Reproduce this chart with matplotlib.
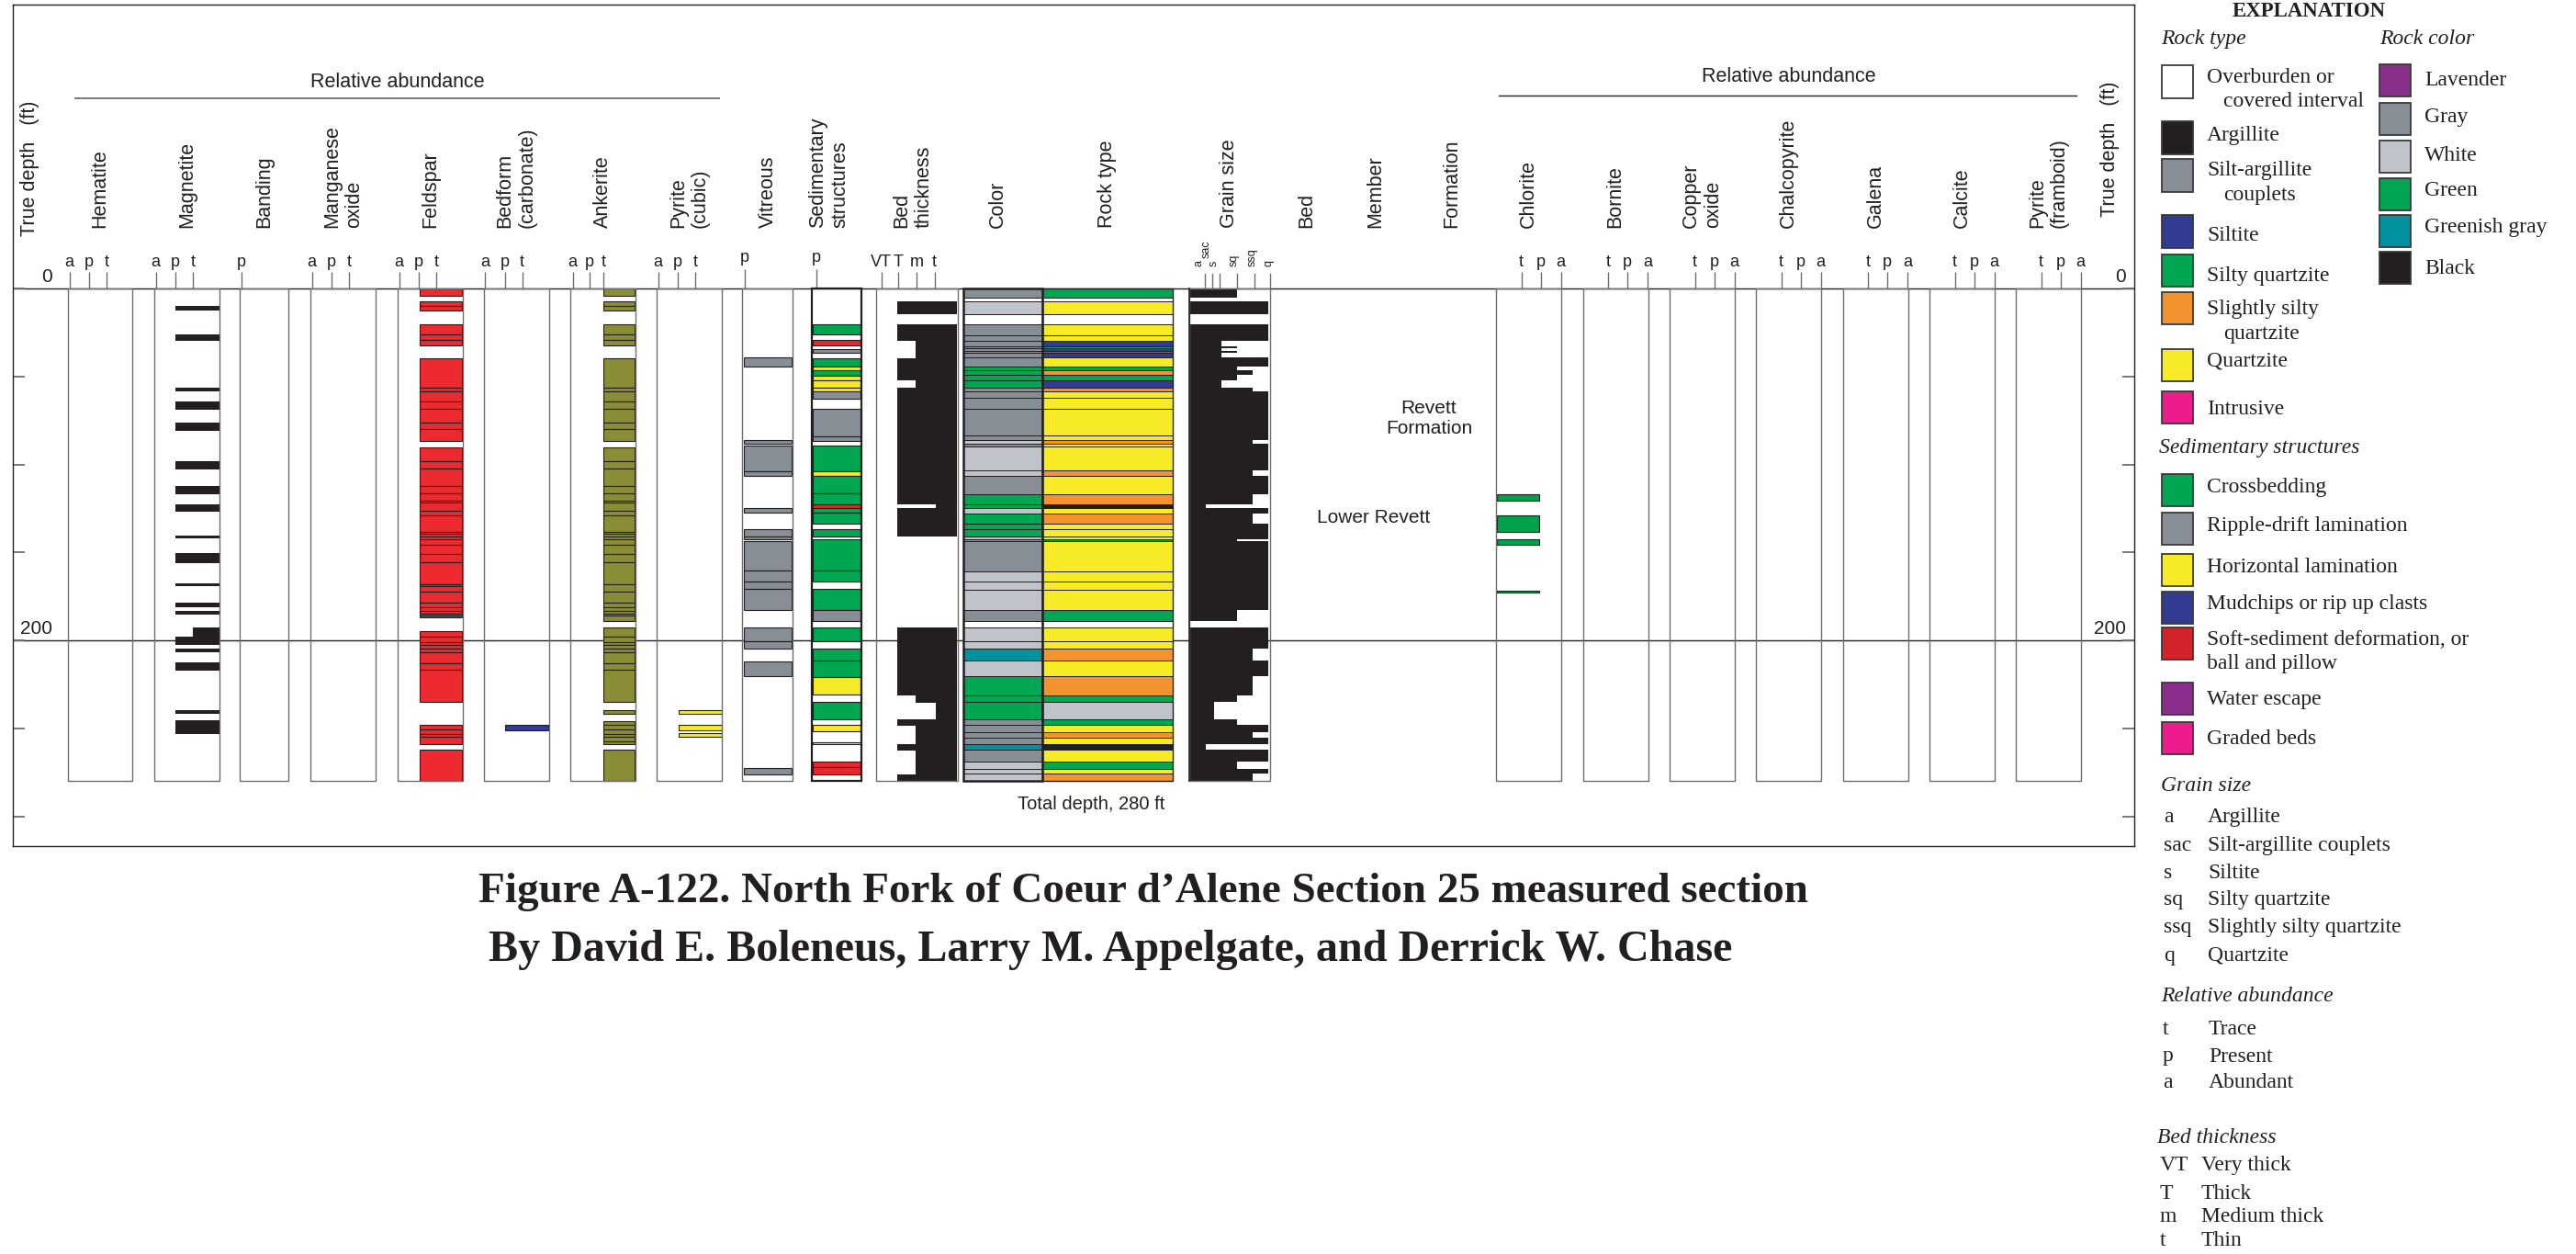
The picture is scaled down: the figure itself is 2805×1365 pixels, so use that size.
import numpy as np
import matplotlib
matplotlib.use("Agg")
import matplotlib.pyplot as plt
from matplotlib.patches import Rectangle

W, H = 2805, 1365
TOTAL_DEPTH = 280

# ---------------- section data (depth, ft) ----------------
magnetite_top = [9.9, 26.1, 56.3, 64.1, 76.2, 98.2, 112.4, 122.5, 140.2, 150.4,
                 167.4, 178.4, 183.4, 192.5, 197.6, 204.5, 212.5, 239.5, 245.5]
magnetite_base = [12.5, 29.6, 58.7, 68.8, 80.7, 102.9, 116.7, 126.9, 141.8, 155.8,
                  168.9, 181.0, 185.1, 197.6, 202.6, 206.9, 217.0, 241.9, 252.9]
magnetite_level = ["p"] * 13 + ["t"] + ["p"] * 5

# beds given as runs of contiguous boundaries
feldspar_beds = [
    [0, 4.3], [7.1, 9.9, 12.3], [20.1, 26.1, 29.3, 32.6],
    [39.5, 56.5, 58.5, 64.3, 68.4, 76.4, 80.1, 86.7],
    [90.4, 98.2, 102.5, 112.4, 116.5, 120.6, 121.5, 126.2, 128.8, 138.3, 139.6,
     140.7, 142.4, 145.8, 150.6, 155.6, 167.8, 168.9, 172.0, 178.6, 181.0, 183.4,
     184.5, 185.8, 186.8],
    [194.8, 197.8, 200.7, 202.4, 204.5, 206.9, 213.0, 216.6, 234.9],
    [247.9, 250.5, 252.9, 254.8, 259.1], [261.9, 280],
]
ankerite_beds = [
    [0, 4.3], [7.1, 9.9, 12.3], [20.1, 26.1, 29.3, 32.6],
    [39.5, 56.5, 58.5, 64.3, 68.4, 76.4, 80.1, 86.7],
    [90.4, 98.2, 102.5, 112.4, 116.5, 120.6, 121.5, 126.2, 128.8, 138.3, 139.6,
     140.7, 142.4, 145.8, 150.6, 155.6, 167.8, 172.0, 178.6, 181.0, 183.4, 184.5,
     185.8, 188.8],
    [192.5, 197.8, 200.7, 202.4, 204.5, 206.9, 213.0, 216.6, 234.9],
    [239.5, 241.9], [245.8, 247.9, 250.5, 252.9, 254.8, 257.2, 259.1], [261.9, 280],
]
bedform_top, bedform_base = [247.9], [251.1]
pyrite_cubic_top = [239.5, 247.9, 252.6]
pyrite_cubic_base = [241.8, 250.9, 254.8]

vitreous_beds = [
    [39.1, 44.4], [86.3, 88.2], [89.5, 103.8, 106.4], [124.5, 127.3],
    [136.6, 140.7, 142.6], [143.5, 160.3, 166.4, 170.5, 182.7],
    [192.5, 200.4, 204.7], [211.9, 220.5], [272.7, 275.9],
]

sed_top = [20.1, 29.3, 34.5, 39.5, 44.4, 46.2, 49.4, 52.2, 56.5, 58.3, 68.4,
           83.9, 89.5, 103.8, 106.4, 116.5, 122.5, 124.5, 127.3, 136.6, 142.6,
           160.3, 170.5, 182.7, 192.5, 204.7, 211.6, 220.9, 234.9, 247.9, 257.6,
           268.8, 272.1]
sed_base = [26.1, 32.4, 36.3, 44.4, 46.2, 49.4, 52.2, 56.5, 58.3, 62.4, 83.9,
            86.7, 103.8, 106.4, 116.5, 122.5, 124.5, 127.3, 133.6, 140.7, 160.3,
            166.4, 182.7, 188.8, 200.4, 211.6, 220.9, 230.8, 244.7, 251.6, 259.1,
            272.1, 275.9]
sed_kind = ["cb", "ss", "rd", "cb", "hl", "cb", "hl", "hl", "hl", "rd", "rd",
            "rd", "cb", "hl", "cb", "cb", "ss", "cb", "cb", "cb", "cb",
            "cb", "cb", "rd", "cb", "cb", "cb", "hl", "cb", "hl", "hl",
            "ss", "ss"]

thick_top = [7.1, 20.5, 29.6, 39.6, 52.4, 56.5, 122.6, 124.6, 192.8, 231.0,
             235.4, 244.9, 248.5, 258.9, 262.4, 273.2, 275.9]
thick_base = [14.4, 29.6, 39.6, 52.4, 56.5, 122.6, 124.6, 141.0, 231.0, 235.4,
              244.9, 248.5, 258.9, 262.4, 272.8, 275.9, 280]
thick_level = ["T", "T", "m", "T", "m", "T", "t", "T", "T", "m",
               "t", "T", "m", "T", "m", "m", "T"]

bed_top = [0, 5.4, 7.1, 14.4, 20.5, 26.6, 29.6, 32.7, 33.9, 35.7, 36.7, 39.1,
           44.5, 46.3, 49.3, 52.4, 56.5, 58.3, 62.3, 68.4, 83.7, 86.1, 88.4,
           89.8, 103.5, 106.6, 116.7, 122.6, 124.9, 127.9, 133.6, 136.8, 141.0,
           142.7, 143.7, 160.6, 166.7, 171.0, 182.7, 188.8, 192.8, 200.6, 204.4,
           211.4, 220.4, 231.0, 234.8, 244.9, 248.0, 251.9, 255.0, 258.9, 262.0,
           269.0, 272.8, 275.8]
bed_color = ["gy", "cv", "wh", "cv", "gy", "gy", "gy", "gy", "gy", "gy", "gy", "gy",
             "gn", "gn", "gn", "gn", "gy", "gy", "gy", "gy", "gy", "wh", "gy",
             "wh", "wh", "gy", "gn", "gn", "wh", "gn", "gn", "gn", "wh",
             "gy", "gy", "wh", "wh", "wh", "gy", "cv", "wh", "wh", "gg",
             "wh", "gn", "gn", "gn", "gy", "gy", "gy", "gy", "gg", "gy",
             "wh", "wh", "wh"]
bed_rock = ["sq", "cv", "q", "cv", "q", "q", "s", "sq", "s", "sq", "s", "q",
            "sq", "ssq", "sq", "s", "ssq", "q", "q", "q", "q", "ssq", "q",
            "q", "ssq", "q", "ssq", "a", "q", "ssq", "q", "q", "q",
            "sq", "q", "q", "q", "q", "sq", "cv", "q", "q", "ssq",
            "q", "ssq", "sq", "sac", "sq", "q", "ssq", "q", "a", "q",
            "sq", "q", "ssq"]

chlorite_top = [117.0, 129.0, 142.6, 171.7]
chlorite_base = [120.7, 138.5, 145.6, 172.7]

# ---------------- colours ----------------
INK = "#231f20"
LINE = "#6d6e71"
GRAY, LIGHT = "#878e95", "#c0c3ca"
GREEN, TEAL = "#00a651", "#00939f"
BLUE, ORANGE, YELLOW = "#323a92", "#f2932f", "#f7ea26"
RED, OLIVE = "#ec2a2f", "#8a8c36"
PURPLE, PINK = "#8b2f8c", "#ec1c8d"

color_fill = {"gy": GRAY, "wh": LIGHT, "gn": GREEN, "gg": TEAL, "cv": "white"}
rock_fill = {"cv": "white", "a": INK, "sac": LIGHT, "s": BLUE, "sq": GREEN,
             "ssq": ORANGE, "q": YELLOW}
sed_fill = {"cb": GREEN, "rd": GRAY, "hl": YELLOW, "ss": "#e8262c"}

plt.rcParams["font.family"] = ["Liberation Sans", "DejaVu Sans"]
plt.rcParams["text.color"] = INK

fig = plt.figure(figsize=(W / 100, H / 100), dpi=100)
FL, FT, FR, FB = 14, 5, 2324, 921
ax = fig.add_axes([FL / W, 1 - FB / H, (FR - FL) / W, (FB - FT) / H])
D0, PPF = 314.0, 1.916   # pixel row of depth 0, pixels per foot


def dep(ypx):
    return (ypx - D0) / PPF


def column(x0, w, ec=LINE, lw=1.0):
    ax.add_patch(Rectangle((x0, 0), w, TOTAL_DEPTH, fill=False, edgecolor=ec,
                           lw=lw, zorder=6))


def header(xc, label, ypx=248):
    ax.text(xc, dep(ypx), label, rotation=90, ha="center", va="bottom",
            multialignment="left", fontsize=15.5, linespacing=1.2)


def ticks(xs, letters, y_letter=285, y_top=296, fs=13):
    for x, s in zip(xs, letters):
        ax.plot([x, x], [dep(y_top), 0], color=LINE, lw=1.0, zorder=4,
                solid_capstyle="butt")
        ax.text(x, dep(y_letter), s, ha="center", va="center", fontsize=fs)


def bars(x0, x1, tops, bases, color, ec=INK, lw=0.6):
    tops = np.asarray(tops, float)
    bases = np.asarray(bases, float)
    x0 = np.broadcast_to(np.asarray(x0, float), tops.shape)
    ax.bar(x0, bases - tops, width=x1 - x0, bottom=tops, align="edge",
           color=color, edgecolor=ec, linewidth=lw, zorder=3)


def split(groups):
    return ([t for g in groups for t in g[:-1]], [b for g in groups for b in g[1:]])


# depth reference lines
ax.axhline(0, color=INK, lw=1.0, zorder=1)
ax.axhline(200, color=INK, lw=1.0, zorder=1)

# ---------------- left mineral columns ----------------
left_cols = [("Hematite", 74, 70.4), ("Magnetite", 168, 71), ("Banding", 261, 53),
             ("Manganese\noxide", 338, 71), ("Feldspar", 433, 71),
             ("Bedform\n(carbonate)", 526.5, 71.5), ("Ankerite", 621, 71),
             ("Pyrite\n(cubic)", 715, 71)]
apt = {"a": 1.5, "p": 23, "t": 42}
for name, x0, w in left_cols:
    column(x0, w)
    header(x0 + w / 2, name)
    if name == "Banding":
        ticks([x0 + 1.5], ["p"])
    elif name == "Ankerite":
        ticks([x0 + 2.5, x0 + 21, x0 + 36], ["a", "p", "t"])
    else:
        ticks([x0 + apt[k] for k in "apt"], list("apt"))

bars([168 + apt[l] for l in magnetite_level], 239, magnetite_top, magnetite_base,
     INK, ec="none")
ft, fb = split(feldspar_beds)
bars(456.5, 502.5, ft, fb, RED, lw=0.8)
bars(550, 597, bedform_top, bedform_base, BLUE, lw=0.8)
at, ab = split(ankerite_beds)
bars(657, 691, at, ab, OLIVE, lw=0.8)
bars(739, 785.5, pyrite_cubic_top, pyrite_cubic_base, YELLOW, lw=0.8)

ax.plot([82, 783], [dep(106.7)] * 2, color=LINE, lw=1.3)
ax.text(432.6, dep(89), "Relative abundance", ha="center", va="center", fontsize=15.5)
ax.text(33, dep(257), "True depth   (ft)", rotation=90, ha="center", va="bottom",
        fontsize=15.5)

# ---------------- middle columns ----------------
column(808, 55)
header(836, "Vitreous")
ticks([810.6], ["p"], y_letter=280, y_top=293)
vt, vb = split(vitreous_beds)
bars(809.5, 861.5, vt, vb, GRAY, lw=0.8)

bars(885, 937, sed_top, sed_base, [sed_fill[k] for k in sed_kind], lw=0.8)
column(883.6, 54.5, ec=INK, lw=1.6)
header(903, "Sedimentary\nstructures")
ticks([888.7], ["p"], y_letter=280, y_top=293)

thick_x = {"VT": 959.6, "T": 976.5, "m": 997, "t": 1019}
bars([thick_x[k] for k in thick_level], 1041.5, thick_top, thick_base, INK, ec="none")
column(953.5, 89.2)
header(994, "Bed\nthickness")
ticks([959.6, 978, 998, 1017.7], ["VT", "T", "m", "t"])

bed_base = bed_top[1:] + [TOTAL_DEPTH]
bars(1048.5, 1134.6, bed_top, bed_base, [color_fill[c] for c in bed_color], lw=0.7)
bars(1134.6, 1276.8, bed_top, bed_base, [rock_fill[r] for r in bed_rock], lw=0.7)
column(1048.5, 86.1, ec=INK, lw=1.8)
column(1134.6, 142.2, ec=INK, lw=1.0)
header(1086, "Color")
header(1206, "Rock type")

# grain size follows the rock type of each bed
grain_x = {"a": 1312.7, "sac": 1321.7, "s": 1330, "sq": 1346.7, "ssq": 1364, "q": 1381}
g_top = np.array([t for t, r in zip(bed_top, bed_rock) if r != "cv"])
g_base = np.array([b for b, r in zip(bed_base, bed_rock) if r != "cv"])
g_right = np.array([grain_x[r] for r in bed_rock if r != "cv"])
ax.barh(g_top, g_right - 1296.0, height=g_base - g_top, left=1296.0, align="edge",
        color=INK, edgecolor="none", zorder=3)
column(1295, 88)
ax.plot([1295, 1295], [0, TOTAL_DEPTH], color=INK, lw=1.2, zorder=6)
header(1338, "Grain size")
grain_ticks = [1312.3, 1320, 1327.7, 1346.7, 1366, 1382.7]
grain_label_x = [1305.5, 1313.5, 1321.5, 1344, 1364, 1382]
grain_label_y = [290, 281, 290, 290, 290, 290]
for x in grain_ticks:
    ax.plot([x, x], [dep(298), 0], color=LINE, lw=1.0, zorder=4)
for x, y, s in zip(grain_label_x, grain_label_y, ["a", "sac", "s", "sq", "ssq", "q"]):
    ax.text(x, dep(y), s, rotation=90, ha="center", va="bottom", fontsize=9)

header(1423, "Bed")
header(1498, "Member")
header(1581, "Formation")
ax.text(1556, dep(455), "Revett\nFormation", ha="center", va="center",
        multialignment="center", fontsize=15, linespacing=1.2)
ax.text(1496, dep(563.5), "Lower Revett", ha="center", va="center", fontsize=15)
ax.text(1188, dep(875), f"Total depth, {TOTAL_DEPTH} ft", ha="center", va="center",
        fontsize=14.5)

# ---------------- right mineral columns ----------------
right_cols = [("Chlorite", 1629), ("Bornite", 1723.5), ("Copper\noxide", 1818),
              ("Chalcopyrite", 1912), ("Galena", 2006.6), ("Calcite", 2101),
              ("Pyrite\n(framboid)", 2195)]
for name, x0 in right_cols:
    column(x0, 71)
    header(x0 + 35.5, name)
    ticks([x0 + 27.6, x0 + 48.6, x0 + 70.5], ["t", "p", "a"])
bars(1630, 1675.5, chlorite_top, chlorite_base, "#00a14b", lw=0.8)

ax.plot([1631.6, 2260.7], [dep(104)] * 2, color=INK, lw=1.0)
ax.text(1948, dep(83), "Relative abundance", ha="center", va="center", fontsize=15.5)
ax.text(2297, dep(236), "True depth   (ft)", rotation=90, ha="center", va="bottom",
        fontsize=15.5)

# depth labels and frame ticks
for xr in (57, 2315):
    ax.text(xr, dep(311), "0", ha="right", va="bottom", fontsize=15)
    ax.text(xr, dep(694), "200", ha="right", va="bottom", fontsize=15)
ax.set_yticks(np.arange(0, 301, 50))
ax.set_xticks([])
ax.tick_params(axis="y", direction="in", length=9.4, width=1.3, colors=LINE,
               left=True, right=True, labelleft=False, labelright=False)
for sp in ax.spines.values():
    sp.set_color(INK)
    sp.set_linewidth(1.0)
ax.set_xlim(FL, FR)
ax.set_ylim(dep(FB), dep(FT))

# ---------------- titles ----------------
SERIF = ["Liberation Serif", "DejaVu Serif"]


def ftext(x, y, s, **kw):
    return fig.text(x / W, 1 - y / H, s, **kw)


def fit(txt, width_px):
    r = fig.canvas.get_renderer()
    w = txt.get_window_extent(renderer=r).width
    txt.set_fontsize(txt.get_fontsize() * width_px / w)


t1 = ftext(1245, 971, "Figure A-122. North Fork of Coeur d\u2019Alene Section 25 measured section",
           ha="center", va="center", fontsize=34, fontweight="bold", family=SERIF)
t2 = ftext(1209.5, 1034, "By David E. Boleneus, Larry M. Appelgate, and Derrick W. Chase",
           ha="center", va="center", fontsize=30, fontweight="bold", family=SERIF)
fit(t1, 1452)
fit(t2, 1353)

# ---------------- explanation ----------------
LFS = 17
rock_type_labels = ["Overburden or\ncovered interval", "Argillite", "Silt-argillite\ncouplets",
                    "Siltite", "Silty quartzite", "Slightly silty\nquartzite", "Quartzite",
                    "Intrusive"]
rock_type_colors = ["white", INK, GRAY, BLUE, GREEN, ORANGE, YELLOW, PINK]
rock_type_box_y = [89, 150, 191, 252, 294, 335, 397, 443]
rock_type_text_y = [84, 148, 186, 257, 300.7, 336.6, 393.5, 445.5]

rock_color_labels = ["Lavender", "Gray", "White", "Green", "Greenish gray", "Black"]
rock_color_colors = [PURPLE, GRAY, LIGHT, GREEN, TEAL, INK]
rock_color_box_y = [87.6, 129.4, 170.6, 211.5, 251.8, 291.2]
rock_color_text_y = [87.7, 128, 169.9, 207.9, 247.8, 292.6]

sed_labels = ["Crossbedding", "Ripple-drift lamination", "Horizontal lamination",
              "Mudchips or rip up clasts", "Soft-sediment deformation, or\nball and pillow",
              "Water escape", "Graded beds"]
sed_colors = [GREEN, GRAY, YELLOW, BLUE, "#d2232a", PURPLE, PINK]
sed_box_y = [533, 575, 620, 661, 700, 760.4, 803]
sed_text_y = [530.3, 572, 618, 657, 696, 761.5, 804.3]

grain_abbr = ["a", "sac", "s", "sq", "ssq", "q"]
grain_names = ["Argillite", "Silt-argillite couplets", "Siltite", "Silty quartzite",
               "Slightly silty quartzite", "Quartzite"]
grain_y = [889.5, 920.9, 950.2, 979.9, 1009.6, 1040.2]
abund_abbr = ["t", "p", "a"]
abund_names = ["Trace", "Present", "Abundant"]
abund_y = [1120.9, 1150, 1178.5]
thick_abbr = ["VT", "T", "m", "t"]
thick_names = ["Very thick", "Thick", "Medium thick", "Thin"]
thick_y = [1268.9, 1299.5, 1324, 1351]


def swatch(x, yc, color):
    fig.add_artist(Rectangle((x / W, 1 - (yc + 17.5) / H), 34 / W, 35 / H,
                             transform=fig.transFigure, facecolor=color,
                             edgecolor="#3a3a3a", lw=1.3))


def entries(box_x, text_x, box_y, text_y, labels, colors, indent):
    for by, ty, lab, col in zip(box_y, text_y, labels, colors):
        swatch(box_x, by, col)
        for i, line in enumerate(lab.split("\n")):
            ftext(text_x + (indent if i else 0), ty + 26.5 * i, line, ha="left",
                  va="center", fontsize=LFS, family=SERIF)


ftext(2514, 12, "EXPLANATION", ha="center", va="center", fontsize=16.5,
      fontweight="bold", family=SERIF)
ftext(2353, 42.8, "Rock type", ha="left", va="center", fontsize=LFS,
      style="italic", family=SERIF)
ftext(2591, 42.8, "Rock color", ha="left", va="center", fontsize=LFS,
      style="italic", family=SERIF)
entries(2354, 2403, rock_type_box_y, rock_type_text_y, rock_type_labels,
        rock_type_colors, 18)
entries(2591, 2640, rock_color_box_y, rock_color_text_y, rock_color_labels,
        rock_color_colors, 0)
ftext(2351, 487.7, "Sedimentary structures", ha="left", va="center", fontsize=LFS,
      style="italic", family=SERIF)
entries(2354, 2403, sed_box_y, sed_text_y, sed_labels, sed_colors, 0)

for head, hy, hx, abbr, names, ys, ax_x, nx in [
        ("Grain size", 855.4, 2353, grain_abbr, grain_names, grain_y, 2356, 2404),
        ("Relative abundance", 1084.7, 2353, abund_abbr, abund_names, abund_y, 2355, 2405),
        ("Bed thickness", 1238.4, 2349, thick_abbr, thick_names, thick_y, 2352, 2397)]:
    ftext(hx, hy, head, ha="left", va="center", fontsize=LFS, style="italic",
          family=SERIF)
    for a, n, y in zip(abbr, names, ys):
        ftext(ax_x, y, a, ha="left", va="center", fontsize=LFS, family=SERIF)
        ftext(nx, y, n, ha="left", va="center", fontsize=LFS, family=SERIF)

fig.savefig("out.png", dpi=100)
